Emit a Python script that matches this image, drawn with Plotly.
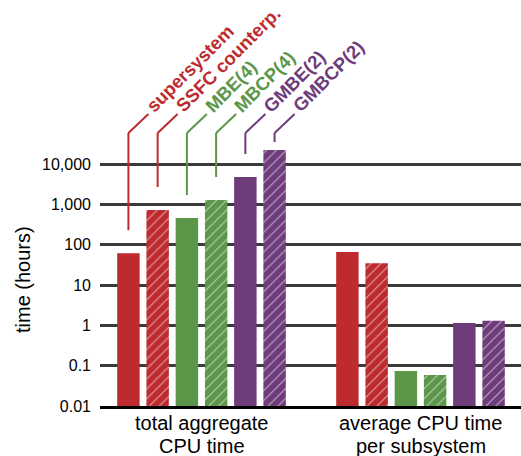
import math
import plotly.graph_objects as go

# Measurement groups on the x axis (two text lines each)
categories = ["total aggregate CPU time", "average CPU time per subsystem"]
category_lines = [["total aggregate", "CPU time"], ["average CPU time", "per subsystem"]]

# Methods (one bar per method in each group)
methods = ["supersystem", "SSFC counterp.", "MBE(4)", "MBCP(4)", "GMBE(2)", "GMBCP(2)"]
colors = ["#BD2B2F", "#BD2B2F", "#5B9649", "#5B9649", "#6E3C7B", "#6E3C7B"]
hatched = [False, True, False, True, False, True]

# Times in hours
total_cpu = [62, 730, 462, 1290, 4800, 22500]
avg_cpu = [66, 35, 0.074, 0.059, 1.15, 1.31]

# Y ticks
tick_vals = [0.01, 0.1, 1, 10, 100, 1000, 10000]
tick_text = ["0.01", "0.1", "1", "10", "100", "1,000", "10,000"]

FONT = "Liberation Sans, Arial, Helvetica, sans-serif"
BARGAP = 0.199
GROUPGAP = 0.232
PLOT_BOTTOM_PX = 406
DECADE_PX = 40.3

fig = go.Figure()
for name, col, hat, t, a in zip(methods, colors, hatched, total_cpu, avg_cpu):
    marker = dict(color=col, line=dict(width=0))
    if hat:
        marker["pattern"] = dict(shape="/", fgcolor="white", fgopacity=0.55,
                                 size=7, solidity=0.16, fillmode="overlay")
    fig.add_trace(go.Bar(x=categories, y=[t, a], name=name, marker=marker,
                         showlegend=False))

# Leader lines and rotated method labels above the first group
px_x = 1 / 219.0          # category units per pixel
px_y = 1 / DECADE_PX      # decades per pixel
slot = (1 - BARGAP) / len(methods)
kink = 4.774              # log10 height of the bend in each leader
shapes = []
annotations = []
for i, (name, col, val) in enumerate(zip(methods, colors, total_cpu)):
    xc = -(1 - BARGAP) / 2 + (i + 0.5) * slot
    bottom = min(math.log10(val) + 23 * px_y, kink - 9 * px_y)
    x_end = xc + 20 * px_x
    y_end = kink + 19 * px_y
    shapes.append(dict(type="line", xref="x", yref="y", x0=xc, x1=xc,
                       y0=10 ** bottom, y1=10 ** kink, line=dict(color=col, width=2)))
    shapes.append(dict(type="line", xref="x", yref="y", x0=xc, x1=x_end,
                       y0=10 ** kink, y1=10 ** y_end, line=dict(color=col, width=2)))
    annotations.append(dict(x=x_end, y=y_end, xref="x", yref="y", text=name,
                            showarrow=False, textangle=-45, xanchor="left",
                            yanchor="bottom", xshift=-9, yshift=-5,
                            font=dict(family=FONT, size=18.5, color=col,
                                      weight="bold")))

# Category labels below the axis, one annotation per line for tight spacing
line_centers_px = [423.0, 446.5]
for cat, lines in zip(categories, category_lines):
    for txt, cy in zip(lines, line_centers_px):
        annotations.append(dict(x=cat, y=1 - cy / PLOT_BOTTOM_PX, xref="x",
                                yref="paper", text=txt, showarrow=False,
                                xanchor="center", yanchor="middle",
                                font=dict(family=FONT, size=20, color="black")))

annotations.append(dict(x=(23 - 100) / 421.0, y=1 - 280 / PLOT_BOTTOM_PX,
                        xref="paper", yref="paper", text="time (hours)",
                        showarrow=False, textangle=-90, xanchor="center",
                        yanchor="middle",
                        font=dict(family=FONT, size=20, color="black")))

fig.update_layout(
    template="none",
    width=521, height=456,
    margin=dict(l=100, r=0, t=0, b=456 - PLOT_BOTTOM_PX, pad=0),
    paper_bgcolor="white", plot_bgcolor="white",
    barmode="group", bargap=BARGAP, bargroupgap=GROUPGAP,
    shapes=shapes, annotations=annotations,
    xaxis=dict(type="category", range=[-0.4635, 1.4589], showline=True,
               linecolor="black", linewidth=2.5, ticks="", showgrid=False,
               showticklabels=False, automargin=False),
    yaxis=dict(type="log", range=[-2, -2 + PLOT_BOTTOM_PX / DECADE_PX],
               tickvals=tick_vals, ticktext=tick_text, automargin=False,
               showgrid=True, gridcolor="#3a3a3a", gridwidth=2.5, zeroline=False,
               showline=False, ticks="", ticklabelstandoff=8,
               tickfont=dict(family=FONT, size=16, color="black")),
)

fig.write_html("out.html")
